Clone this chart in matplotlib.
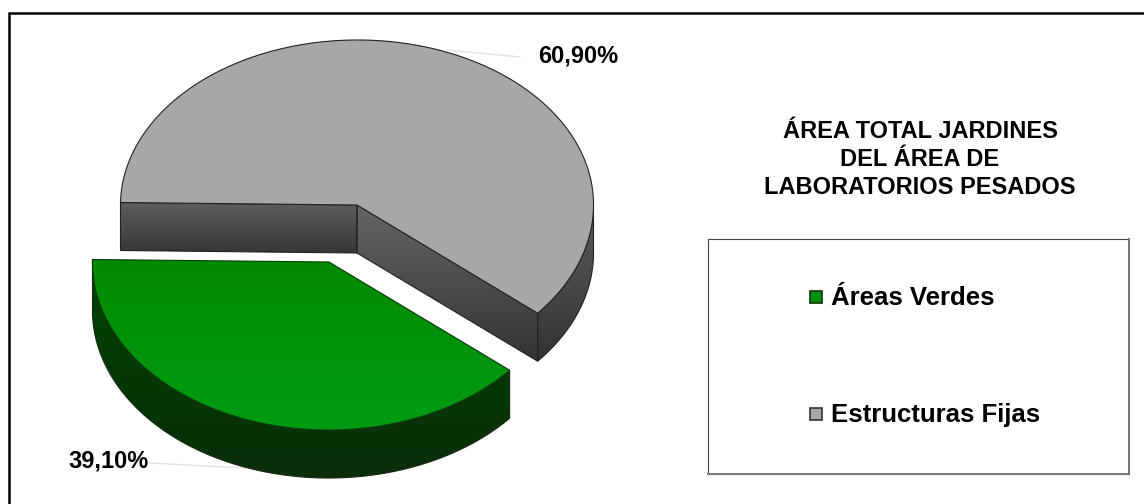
import numpy as np
import matplotlib
matplotlib.use('Agg')
import matplotlib.pyplot as plt
from matplotlib.colors import to_rgb
from matplotlib.patches import Polygon, Rectangle

plt.rcParams['font.family'] = ['Liberation Sans', 'DejaVu Sans']

categories = ['Áreas Verdes', 'Estructuras Fijas']
values = [39.10, 60.90]
value_labels = ['39,10%', '60,90%']
title_lines = ['ÁREA TOTAL JARDINES', 'DEL ÁREA DE', 'LABORATORIOS PESADOS']

GREEN = '#009010'
GRAY = '#a6a8a6'
RX = 236.5
RY_BACK, RY_FRONT = 165, 168
DEPTH = 48
TILT = 2.5
SHEAR = 4
GRAY_C = (357, 205)
GREEN_C = (329, 262)

fig = plt.figure(figsize=(11.44, 5.04), dpi=100)
ax = fig.add_axes([0, 0, 1, 1])
ax.axis('off')


def rim(center, t0, t1, n=200):
    t = np.radians(np.linspace(t0, t1, n))
    x = center[0] + RX * np.cos(t) - SHEAR * np.sin(t)
    ry = np.where(np.sin(t) > 0, RY_FRONT, RY_BACK)
    y = center[1] + ry * np.sin(t) + TILT * np.cos(t)
    return np.column_stack([x, y])


def shade(points, top, bottom, edge='#222222', z=2):
    # vertical gradient clipped to a polygon
    pts = np.array(points, dtype=float)
    x0, x1 = pts[:, 0].min(), pts[:, 0].max()
    y0, y1 = pts[:, 1].min(), pts[:, 1].max()
    c0, c1 = np.array(to_rgb(top)), np.array(to_rgb(bottom))
    f = np.linspace(0, 1, 128)[:, None]
    grad = (c0 * (1 - f) + c1 * f)[:, None, :]
    im = ax.imshow(grad, extent=(x0, x1, y1, y0), aspect='auto', zorder=z)
    poly = Polygon(pts, closed=True, fc='none', ec=edge, lw=0.8, zorder=z + 1)
    ax.add_patch(poly)
    im.set_clip_path(poly)


def drop(pts):
    return np.atleast_2d(pts) + np.array([0, DEPTH])


# angles run clockwise on screen, the gray slice starts at the left edge
gray_end = 180 + values[1] / sum(values) * 360
green_start = gray_end - 360

# gray slice: cut faces and outer side, then the top
gray_top = rim(GRAY_C, 180, gray_end)
gray_side = rim(GRAY_C, 360, gray_end, 60)
shade(np.vstack([gray_side, drop(gray_side)[::-1]]), '#5c5c5c', '#333333')
shade(np.vstack([gray_top[0], GRAY_C, drop(GRAY_C), drop(gray_top[0])]), '#5e5e5e', '#363636')
shade(np.vstack([GRAY_C, gray_top[-1], drop(gray_top[-1]), drop(GRAY_C)]), '#666666', '#333333')
ax.add_patch(Polygon(np.vstack([gray_top, GRAY_C]), closed=True, fc=GRAY, ec='#222222', lw=0.8, zorder=4))

# green slice, pulled out towards the lower left
green_arc = rim(GREEN_C, green_start, 180)
shade(np.vstack([green_arc, drop(green_arc)[::-1]]), '#004400', '#0a2e0a', edge='#1a2a1a', z=5)
shade(np.vstack([green_arc, GREEN_C]), '#008a00', '#009c14', edge='#0a3a0a', z=7)

ax.set_xlim(0, 1144)
ax.set_ylim(504, 0)

# leader lines and value labels
ax.plot([447, 520], [50, 57], color='#e2e2e2', lw=1, zorder=1)
ax.plot([150, 245], [463, 468], color='#e2e2e2', lw=1, zorder=1)
ax.text(578, 56, value_labels[1], fontsize=17, fontweight='bold', ha='center', va='center', color='black')
ax.text(109, 461, value_labels[0], fontsize=17, fontweight='bold', ha='center', va='center', color='black')

for line, y in zip(title_lines, [132, 160, 187]):
    ax.text(920, y, line, fontsize=17, fontweight='bold', ha='center', va='center', color='black')

# legend box, heavier gray on the right and bottom sides
ax.add_patch(Rectangle((708, 239), 421, 235, fc='white', ec='#444444', lw=0.8, zorder=1))
ax.plot([708, 1129, 1129], [474, 474, 239], color='#777777', lw=1.4, zorder=1.5)
ax.add_patch(Rectangle((810, 291), 12, 12, fc=GREEN, ec='#0a3a0a', lw=1.2, zorder=2))
ax.add_patch(Rectangle((810, 408), 12, 12, fc=GRAY, ec='#333333', lw=1.2, zorder=2))
ax.text(831, 298, categories[0], fontsize=18.5, fontweight='bold', va='center', color='black')
ax.text(831, 415, categories[1], fontsize=18.5, fontweight='bold', va='center', color='black')

# frame lines along the top and the left only
ax.plot([9, 1144], [13, 13], color='black', lw=1.8, zorder=9, solid_capstyle='butt')
ax.plot([9, 9], [12, 504], color='black', lw=1.8, zorder=9, solid_capstyle='butt')

fig.savefig('out.png', dpi=100)
